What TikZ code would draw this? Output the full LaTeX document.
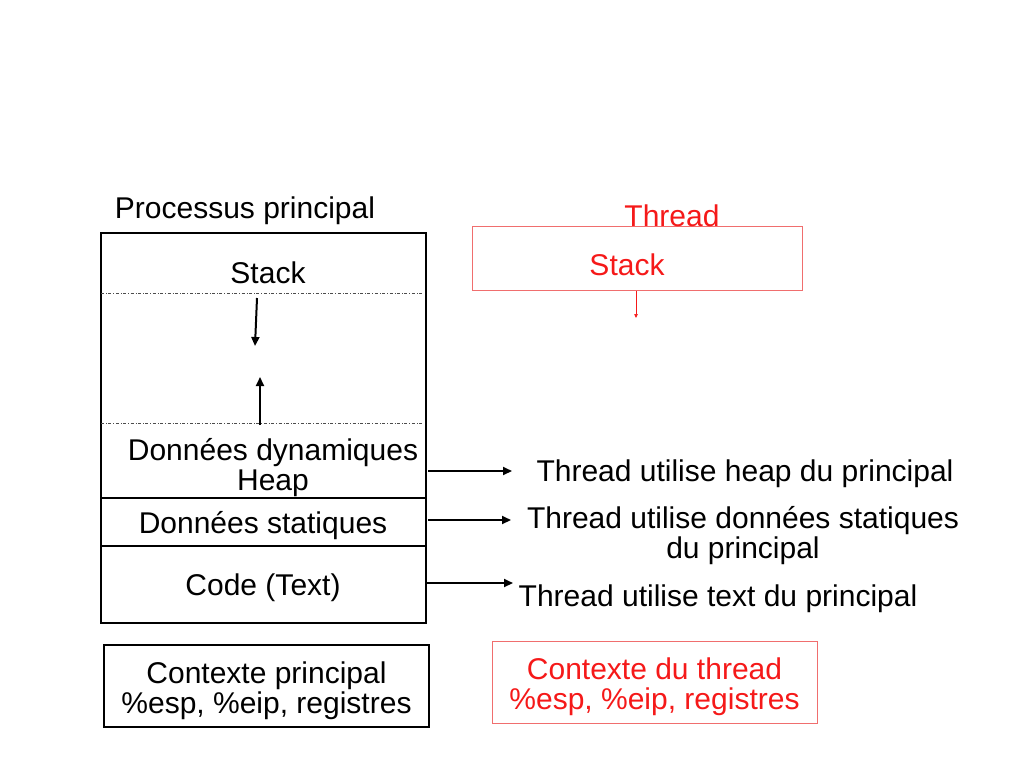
\documentclass[tikz,border=0pt]{standalone}
\usepackage{fontspec}
\setmainfont{Liberation Sans}
\usetikzlibrary{arrows.meta}
\definecolor{thrd}{RGB}{245,25,25}
\definecolor{thrdbox}{RGB}{240,110,110}

\begin{document}
\begin{tikzpicture}[x=1pt, y=-1pt,
  lbl/.style={font=\fontsize{30}{30}\selectfont, inner sep=0pt, align=center},
  seg/.style={draw, line width=1.8pt},
  arr/.style={-{Triangle[length=9pt,width=8pt]}, line width=2pt}]
\useasboundingbox (0,0) rectangle (1024,768);

% process memory
\node[seg, anchor=north west, minimum width=325pt, minimum height=390pt, inner sep=0pt] (proc) at (100,232){};
\node[lbl] (proc_l) at (245,211){Processus principal};
\node[lbl] (stack) at (268,273){Stack};
\draw[dash dot, line width=0.8pt, gray!60!black] (101,293)--(424,293);
\draw[dash dot, line width=0.8pt, gray!60!black] (101,423)--(424,423);

\coordinate (sd_a) at (257,298);
\coordinate (sd_b) at (255,346);
\draw[arr] (sd_a)--(sd_b);
\coordinate (hu_a) at (260,425);
\coordinate (hu_b) at (260,377);
\draw[arr] (hu_a)--(hu_b);

\node[lbl] (heap) at (273,468){Données dynamiques\\Heap};
\draw[line width=1.8pt] (100,498)--(425,498);
\node[lbl] (stat) at (263,526){Données statiques};
\draw[line width=1.8pt] (100,546)--(425,546);
\node[lbl] (code) at (263,588){Code (Text)};

% thread
\node[draw=thrdbox, line width=1pt, anchor=north west, minimum width=330pt, minimum height=64pt, inner sep=0pt] (thr) at (472,226){};
\node[lbl, text=thrd] (thr_l) at (672,216){Thread};
\node[lbl, text=thrd] (thr_stack) at (627,265){Stack};
\coordinate (ts_b) at (636,318);
\draw[thrd, line width=0.7pt, -{Triangle[length=4pt,width=3.5pt]}] (thr.south -| ts_b)--(ts_b);

% shared segments
\node[lbl] (use_heap) at (745,474){Thread utilise heap du principal};
\node[lbl] (use_stat) at (743,536){Thread utilise données statiques\\du principal};
\node[lbl] (use_code) at (718,599){Thread utilise text du principal};
\coordinate (h_a) at (428,471);
\coordinate (h_b) at (512,471);
\coordinate (s_a) at (428,520);
\coordinate (s_b) at (511,520);
\coordinate (c_a) at (426,583);
\coordinate (c_b) at (513,583);
\draw[arr] (h_a)--(h_b);
\draw[arr] (s_a)--(s_b);
\draw[arr] (c_a)--(c_b);

% contexts
\node[seg, minimum width=325pt, minimum height=82pt, inner sep=0pt] (ctx_p) at (266.5,686){};
\node[lbl] (ctx_p_l) at (266.5,691){Contexte principal\\\%esp, \%eip, registres};
\node[draw=thrdbox, line width=1pt, minimum width=325pt, minimum height=82pt, inner sep=0pt] (ctx_t) at (654.5,682){};
\node[lbl, text=thrd] (ctx_t_l) at (654.5,687){Contexte du thread\\\%esp, \%eip, registres};
\end{tikzpicture}
\end{document}
